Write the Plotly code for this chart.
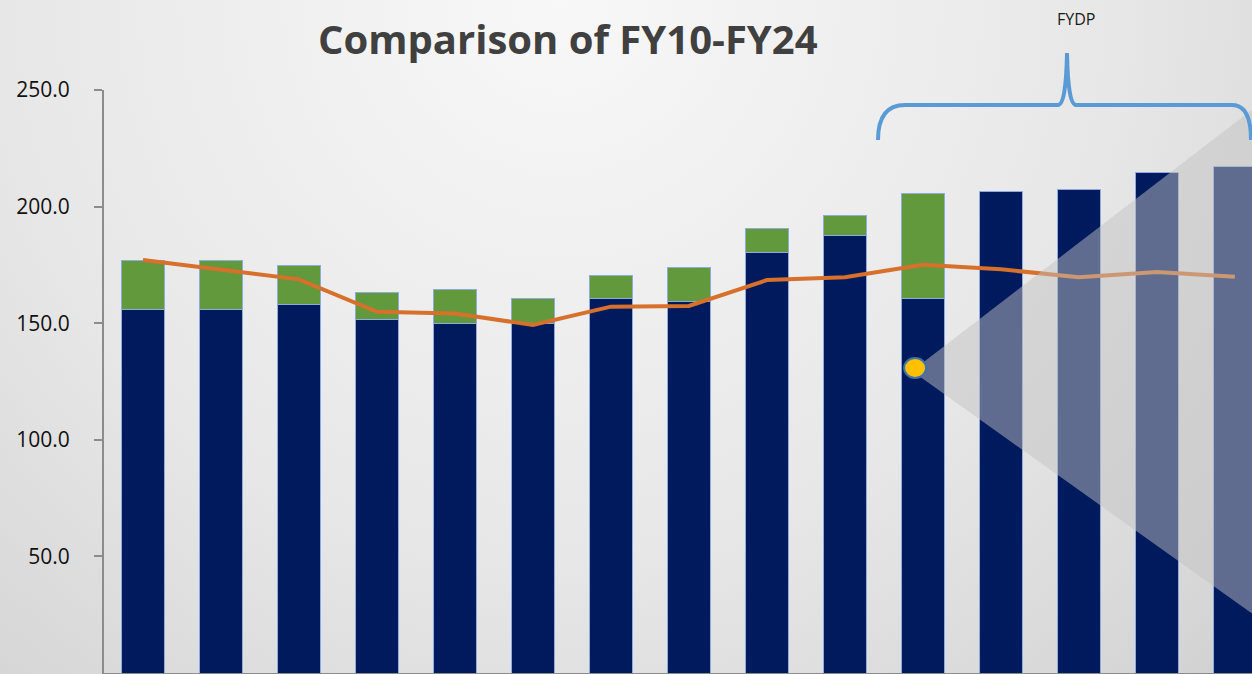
import base64
import plotly.graph_objects as go

# Fiscal years shown on the slide (tick labels are cropped off the bottom)
years = ['FY10', 'FY11', 'FY12', 'FY13', 'FY14', 'FY15', 'FY16', 'FY17',
         'FY18', 'FY19', 'FY20', 'FY21', 'FY22', 'FY23', 'FY24']

# Base amount (navy) and additional amount (green) per year
base = [156.0, 156.0, 158.2, 151.4, 150.0, 150.0, 160.7, 159.5,
        180.4, 187.7, 160.5, 206.4, 207.5, 214.5, 217.1]
extra = [21.1, 20.8, 16.6, 11.7, 14.4, 10.4, 9.7, 14.6,
         10.1, 8.4, 45.2, 0.0, 0.0, 0.0, 0.0]

# Orange trend line
trend = [177.1, 173.1, 168.8, 154.9, 154.2, 149.2, 157.1, 157.4,
         168.5, 169.7, 175.1, 173.1, 169.7, 172.0, 169.9]

y_ticks = [50, 100, 150, 200, 250]

NAVY = '#001a5e'
GREEN = '#62993d'
ORANGE = '#d6702a'
EDGE = '#8faadc'
BRACE = '#5b9bd5'

# plot area in pixels (used only for decorations)
W, H = 1252, 674
L, T, B = 104, 90, 1
PW, PH = W - L, H - T - B


def px(x, y):
    """pixel -> paper coordinates"""
    return (x - L) / PW, (H - B - y) / PH


# soft grey slide background
svg = f'''<svg xmlns="http://www.w3.org/2000/svg" width="{W}" height="{H}">
<defs><radialGradient id="g" cx="560" cy="0" r="1000" gradientUnits="userSpaceOnUse">
<stop offset="0" stop-color="#f8f8f8"/><stop offset="0.56" stop-color="#e7e7e7"/>
<stop offset="0.88" stop-color="#d6d6d6"/><stop offset="1" stop-color="#cdcdcd"/>
</radialGradient></defs><rect width="{W}" height="{H}" fill="url(#g)"/></svg>'''
bg_uri = 'data:image/svg+xml;base64,' + base64.b64encode(svg.encode()).decode()

fig = go.Figure()

fig.add_trace(go.Bar(
    x=years, y=base, name='Base',
    marker=dict(color=NAVY, line=dict(color=EDGE, width=1)),
    width=0.56,
))
fig.add_trace(go.Bar(
    x=years, y=extra, name='Additional',
    marker=dict(color=GREEN, line=dict(color=EDGE, width=1)),
    width=0.56,
))
fig.add_trace(go.Scatter(
    x=years, y=trend, name='Trend', mode='lines',
    line=dict(color=ORANGE, width=4),
))

# grey "projection" cone over the FYDP years
apex_x, apex_y = 9.86, 129.5
fig.add_shape(
    type='path', xref='x', yref='y', layer='above',
    path=f'M {apex_x},{apex_y} L 14.3,243.6 L 14.3,23.6 Z',
    fillcolor='rgba(193,193,193,0.49)', line=dict(width=0),
)
fig.add_shape(
    type='circle', xref='x', yref='y', layer='above',
    xsizemode='pixel', ysizemode='pixel',
    xanchor=apex_x + 0.04, yanchor=apex_y + 1.3,
    x0=-11, x1=11, y0=-10, y1=10,
    fillcolor='#ffc000', line=dict(color='#3f74a8', width=2),
)

# curly brace marking the FYDP
pts = [(878, 140), (878, 105), (905, 105), (1058, 105), (1066, 105), (1067, 53),
       (1068, 105), (1076, 105), (1232, 105), (1251, 105), (1251, 140)]
p = [px(*q) for q in pts]
brace = (f'M {p[0][0]},{p[0][1]} Q {p[1][0]},{p[1][1]} {p[2][0]},{p[2][1]} '
         f'L {p[3][0]},{p[3][1]} Q {p[4][0]},{p[4][1]} {p[5][0]},{p[5][1]} '
         f'Q {p[6][0]},{p[6][1]} {p[7][0]},{p[7][1]} '
         f'L {p[8][0]},{p[8][1]} Q {p[9][0]},{p[9][1]} {p[10][0]},{p[10][1]}')
fig.add_shape(type='path', xref='paper', yref='paper', path=brace,
              line=dict(color=BRACE, width=4))

tx, ty = px(1076, 19)
fig.add_annotation(text='FYDP', xref='paper', yref='paper', x=tx, y=ty,
                   xanchor='center', yanchor='middle',
                   showarrow=False, font=dict(size=16, color='#1a1a1a'))

hx, hy = px(568, 38)
fig.add_annotation(text='<b>Comparison of FY10-FY24</b>', xref='paper', yref='paper',
                   x=hx, y=hy, xanchor='center', yanchor='middle', showarrow=False,
                   font=dict(family='Open Sans', size=40, color='#404040'))

fig.update_layout(
    barmode='stack',
    width=W, height=H,
    margin=dict(l=L, r=0, t=T, b=B),
    paper_bgcolor='#e2e2e2',
    plot_bgcolor='rgba(0,0,0,0)',
    showlegend=False,
    font=dict(family='Open Sans', color='#111111'),
    images=[dict(source=bg_uri, xref='paper', yref='paper',
                 x=-L / PW, y=(H - B) / PH, sizex=W / PW, sizey=H / PH,
                 xanchor='left', yanchor='top', sizing='stretch', layer='below')],
)

fig.update_xaxes(
    range=[-0.5, 14.22], showticklabels=False, ticks='',
    showline=True, linecolor='#8c8c8c', linewidth=2, showgrid=False,
)
fig.update_yaxes(
    range=[0, 250], tickvals=y_ticks, tickformat='.1f',
    ticks='outside', ticklen=8, tickcolor='#8c8c8c', tickwidth=1.5,
    ticklabelstandoff=20,
    showline=True, linecolor='#8c8c8c', linewidth=2, showgrid=False,
    tickfont=dict(size=21, color='#111111'), zeroline=False,
)

fig.write_html('out.html', config={'displayModeBar': False},
               post_script="document.body.style.margin='0';")
